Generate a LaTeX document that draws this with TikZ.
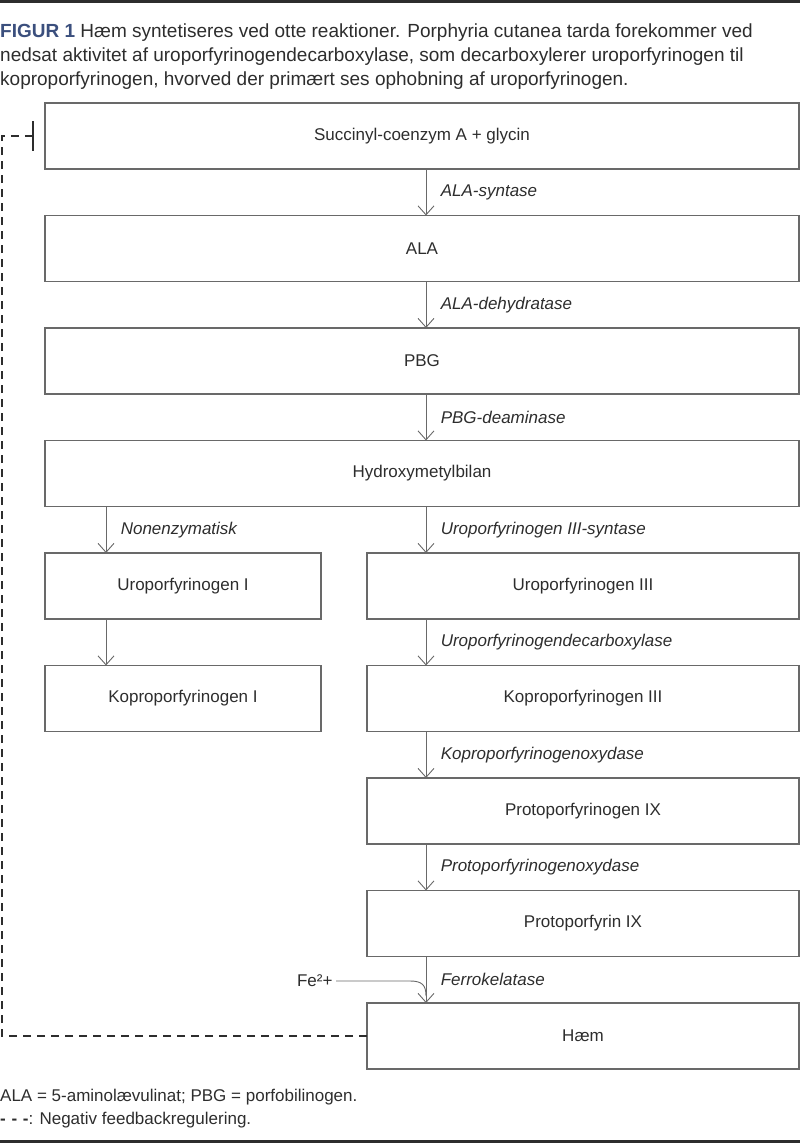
\documentclass[tikz,border=0pt]{standalone}
\usepackage{fontspec}
\setmainfont{Liberation Sans}
\usepackage{xcolor}
\definecolor{figblue}{RGB}{59, 79, 125}
\definecolor{boxgray}{RGB}{105, 105, 105}
\definecolor{txtdark}{RGB}{45, 45, 45}
\usepackage{tikz}
\usetikzlibrary{arrows.meta, positioning}

\begin{document}
\begin{tikzpicture}[
        x=1pt, y=-1pt,
        node distance=46.5pt,
        font=\fontsize{17}{20}\selectfont,
        text=txtdark,
        box/.style={
            rectangle,
            draw=boxgray,
            line width=1.3pt,
            minimum width=754pt,
            minimum height=66pt,
            inner sep=0pt,
            outer sep=0pt
        },
        arrow/.style={
            -{Straight Barb[length=9pt, width=16pt]},
            line width=0.9pt,
            draw=boxgray
        },
        enzyme/.style={
            anchor=west,
            xshift=11pt,
            font=\fontsize{17}{20}\selectfont\itshape
        },
        feedback/.style={
            dash pattern=on 8pt off 6pt,
            line width=1.6pt,
            draw=txtdark
        }
    ]
        \useasboundingbox (0,0) rectangle (800,1146);

        % Rules and caption
        \draw[line width=2.6pt, txtdark] (0,1.3) -- (800,1.3);
        \draw[line width=3pt, txtdark] (0,1141) -- (800,1141);
        \node[anchor=north west, inner sep=0pt, align=left, font=\fontsize{19}{24}\selectfont] (caption) at (0,24) {\textcolor{figblue}{\textbf{FIGUR 1}} Hæm syntetiseres ved otte reaktioner. Porphyria cutanea tarda forekommer ved\\ nedsat aktivitet af uroporfyrinogendecarboxylase, som decarboxylerer uroporfyrinogen til\\ koproporfyrinogen, hvorved der primært ses ophobning af uroporfyrinogen.};

        % Nodes
        \node[box] (succ) at (422,136) {Succinyl-coenzym A + glycin};
        \node[box, below=of succ] (ala) {ALA};
        \node[box, below=of ala] (pbg) {PBG};
        \node[box, below=of pbg] (hmb) {Hydroxymetylbilan};
        \node[box, minimum width=276pt, below=of hmb.south west, anchor=north west] (uro1) {Uroporfyrinogen I};
        \node[box, minimum width=432pt, below=of hmb.south east, anchor=north east] (uro3) {Uroporfyrinogen III};
        \node[box, minimum width=276pt, below=of uro1] (kop1) {Koproporfyrinogen I};
        \node[box, minimum width=432pt, below=of uro3] (kop3) {Koproporfyrinogen III};
        \node[box, minimum width=432pt, below=of kop3] (protog) {Protoporfyrinogen IX};
        \node[box, minimum width=432pt, below=of protog] (proto) {Protoporfyrin IX};
        \node[box, minimum width=432pt, below=of proto] (haem) {Hæm};
        \node[anchor=east] (fe) at (336,981) {Fe²+};

        % Arrows
        \coordinate (main) at (426,0);
        \coordinate (side) at (106,0);
        \draw[arrow] (succ.south -| main) -- node[enzyme] {ALA-syntase} (ala.north -| main);
        \draw[arrow] (ala.south -| main) -- node[enzyme] {ALA-dehydratase} (pbg.north -| main);
        \draw[arrow] (pbg.south -| main) -- node[enzyme] {PBG-deaminase} (hmb.north -| main);
        \draw[arrow] (hmb.south -| side) -- node[enzyme] {Nonenzymatisk} (uro1.north -| side);
        \draw[arrow] (hmb.south -| main) -- node[enzyme] {Uroporfyrinogen III-syntase} (uro3.north -| main);
        \draw[arrow] (uro1.south -| side) -- (kop1.north -| side);
        \draw[arrow] (uro3.south -| main) -- node[enzyme] {Uroporfyrinogendecarboxylase} (kop3.north -| main);
        \draw[arrow] (kop3.south -| main) -- node[enzyme] {Koproporfyrinogenoxydase} (protog.north -| main);
        \draw[arrow] (protog.south -| main) -- node[enzyme] {Protoporfyrinogenoxydase} (proto.north -| main);
        \draw[arrow] (proto.south -| main) -- node[enzyme] {Ferrokelatase} (haem.north -| main);

        % Iron joins the last step
        \coordinate (join) at (426,996);
        \draw[line width=0.9pt, draw=boxgray] (fe.east) -- (410,981) .. controls (422,981) and (426,985) .. (join);

        % Feedback
        \coordinate (fbx) at (2,0);
        \draw[feedback, -{Bar[width=30pt, line width=2.4pt]}] (haem.west) -- (haem.west -| fbx) -- (succ.west -| fbx) -- ([xshift=-11pt]succ.west);

        % Footnotes
        \node[anchor=west, inner sep=0pt] (abbr) at (0,1097) {ALA = 5-aminolævulinat; PBG = porfobilinogen.};
        \node[anchor=west, inner sep=0pt] (legend) at (0,1120) {\textbf{-\,\,-\,\,-}: Negativ feedbackregulering.};
    \end{tikzpicture}
\end{document}
